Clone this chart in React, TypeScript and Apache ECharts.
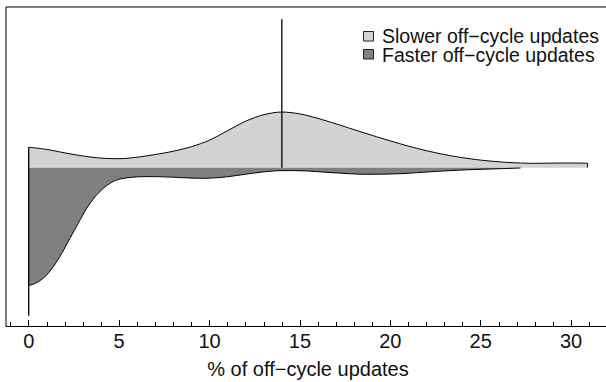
import React, { useEffect, useRef } from "react";
import * as echarts from "echarts";

// Upper half of the bean: slower off-cycle updates (density, arbitrary units)
const topX = [0, 1, 2, 3, 4, 5, 6, 7, 8, 9, 10, 11, 12, 13, 14, 15, 16, 17, 18, 19, 20, 21, 22, 23, 24, 25, 26, 27, 28, 29, 30, 30.9];
const topDensity = [20.4, 18.3, 14.8, 11.7, 9.6, 9.0, 10.5, 13.2, 16.5, 21, 27.5, 37, 46.5, 53, 55.7, 53.8, 49.3, 43.8, 38.0, 32.3, 26.8, 21.6, 17.0, 13.1, 10.0, 7.6, 5.9, 4.8, 4.4, 4.6, 4.7, 4.5];

// Lower half of the bean: faster off-cycle updates (density, arbitrary units)
const bottomX = [0, 0.44, 0.9, 1.36, 1.83, 2.28, 2.74, 3.21, 3.67, 4.13, 4.59, 5.05, 5.97, 6.89, 7.82, 8.74, 9.66, 10.58, 11.3, 12.2, 13.16, 14.0, 15.0, 16.83, 18.69, 20.53, 22.36, 24.23, 26.07, 27.2];
const bottomDensity = [118, 115, 109, 99, 85.6, 70.6, 55.6, 40.6, 29, 20.6, 14.6, 11.3, 9.2, 8.9, 9.4, 10.2, 10.6, 9.8, 8.3, 6.0, 3.9, 2.9, 3.0, 5.0, 6.6, 6.0, 3.9, 2.1, 1.0, 0.3];

// Bean lines
const medianValue = 14;
const medianHeight = 148.4;
const zeroLineDepth = 148;

// Axis
const majorTicks = [0, 5, 10, 15, 20, 25, 30];
const minorTicks = [-1, 1, 2, 3, 4, 6, 7, 8, 9, 11, 12, 13, 14, 16, 17, 18, 19, 21, 22, 23, 24, 26, 27, 28, 29, 31, 32];
const X_MIN = -1.256;
const X_MAX = 32.15;
const Y_MIN = -158.3;
const Y_MAX = 160.7;

const legendLabels = ["Slower off\u2212cycle updates", "Faster off\u2212cycle updates"];
const xTitle = "% of off\u2212cycle updates";

export default function App() {
  const ref = useRef<HTMLDivElement>(null);
  useEffect(() => {
    const chart = echarts.init(ref.current!, null, { renderer: "svg" });
    const font = "'Liberation Sans', Arial, Helvetica, sans-serif";
    const lightFill = "#d3d3d3";
    const darkFill = "#808080";
    const lastTop = topX.length - 1;
    chart.setOption({
      animation: false,
      grid: { left: 6, top: 7, width: 604, height: 319, outerBoundsMode: "none", containLabel: false },
      xAxis: [
        {
          type: "value",
          min: X_MIN,
          max: X_MAX,
          position: "bottom",
          axisLine: { show: true, onZero: false, lineStyle: { color: "#000", width: 1 } },
          axisTick: { show: true, inside: true, length: 6, customValues: majorTicks, lineStyle: { color: "#000", width: 1 } },
          axisLabel: { show: true, customValues: majorTicks, margin: 5, fontSize: 20, color: "#111", fontFamily: font, formatter: (v: number) => String(v) },
          splitLine: { show: false },
        },
        {
          type: "value",
          min: X_MIN,
          max: X_MAX,
          position: "bottom",
          axisLine: { show: false, onZero: false },
          axisTick: { show: true, inside: true, length: 4, customValues: minorTicks, lineStyle: { color: "#000", width: 1 } },
          axisLabel: { show: false },
          splitLine: { show: false },
        },
      ],
      yAxis: { type: "value", min: Y_MIN, max: Y_MAX, show: false },
      series: [
        {
          type: "line",
          xAxisIndex: 0,
          data: topX.map((x, i) => [x, topDensity[i]]),
          smooth: 0.3,
          symbol: "none",
          lineStyle: { color: "#000", width: 1 },
          areaStyle: { color: lightFill, opacity: 1 },
          z: 2,
        },
        {
          type: "line",
          xAxisIndex: 0,
          data: bottomX.map((x, i) => [x, -bottomDensity[i]]),
          smooth: 0.3,
          symbol: "none",
          lineStyle: { color: "#000", width: 1 },
          areaStyle: { color: darkFill, opacity: 1 },
          z: 2,
        },
        {
          type: "line",
          xAxisIndex: 0,
          data: [[0, topDensity[0]], [0, -zeroLineDepth]],
          symbol: "none",
          lineStyle: { color: "#000", width: 1.3 },
          z: 3,
        },
        {
          type: "line",
          xAxisIndex: 0,
          data: [[medianValue, 0], [medianValue, medianHeight]],
          symbol: "none",
          lineStyle: { color: "#000", width: 1.3 },
          z: 3,
        },
        {
          type: "line",
          xAxisIndex: 0,
          data: [[topX[lastTop], topDensity[lastTop]], [topX[lastTop], 0]],
          symbol: "none",
          lineStyle: { color: "#000", width: 1 },
          z: 3,
        },
      ],
      graphic: [
        { type: "line", shape: { x1: 6, y1: 7, x2: 6, y2: 326 }, style: { stroke: "#000", lineWidth: 1 } },
        { type: "line", shape: { x1: 6, y1: 7, x2: 612, y2: 7 }, style: { stroke: "#000", lineWidth: 1 } },
        { type: "rect", shape: { x: 363.5, y: 31.5, width: 10, height: 9.5 }, style: { fill: lightFill, stroke: "#222", lineWidth: 1 } },
        { type: "rect", shape: { x: 363.5, y: 49.5, width: 10, height: 9.5 }, style: { fill: darkFill, stroke: "#222", lineWidth: 1 } },
        { type: "text", style: { text: legendLabels.join("\n"), x: 382, y: 45.5, fontSize: 19.5, lineHeight: 19.5, fontFamily: font, fill: "#111", align: "left", verticalAlign: "middle" } },
        { type: "text", style: { text: xTitle, x: 308, y: 369, fontSize: 20, fontFamily: font, fill: "#111", align: "center", verticalAlign: "middle" } },
      ],
    });
    return () => chart.dispose();
  }, []);
  return <div ref={ref} style={{ position: "absolute", left: 0, top: 0, width: 606, height: 382 }} />;
}
